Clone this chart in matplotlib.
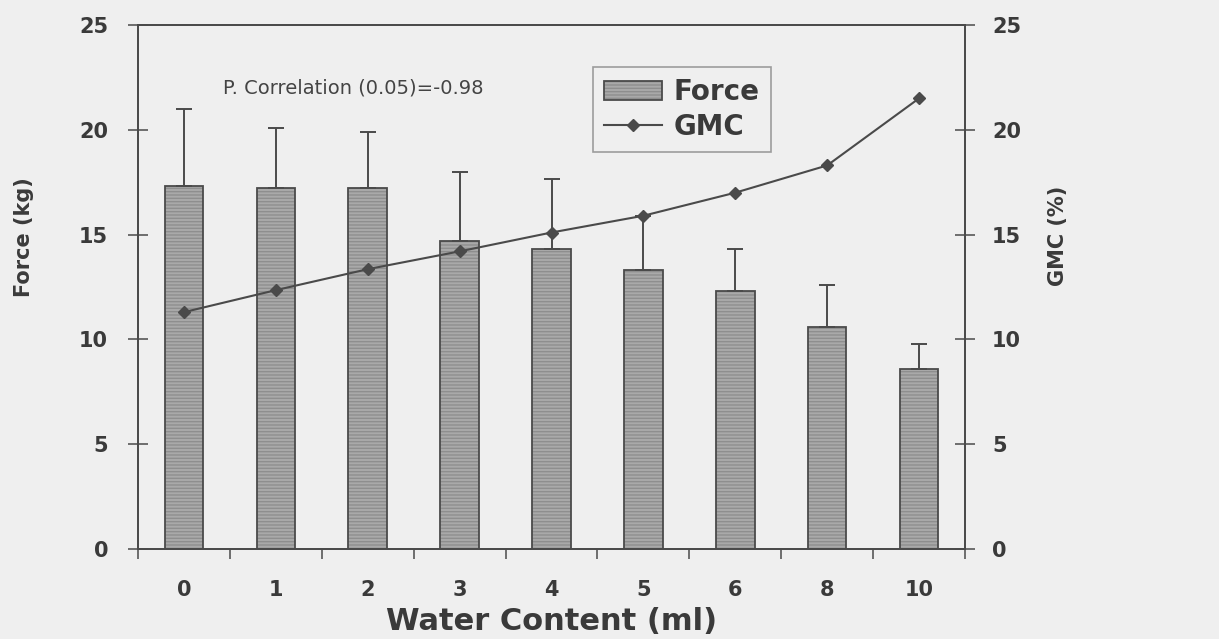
import matplotlib
matplotlib.use("Agg")
import matplotlib.pyplot as plt
from matplotlib.patches import Patch
from matplotlib.lines import Line2D
import numpy as np

# ---- data ----
categories = ["0", "1", "2", "3", "4", "5", "6", "8", "10"]
force = [17.3, 17.2, 17.2, 14.7, 14.3, 13.3, 12.3, 10.6, 8.6]
force_err = [3.7, 2.9, 2.7, 3.3, 3.35, 2.6, 2.0, 2.0, 1.2]
gmc = [11.3, 12.35, 13.35, 14.2, 15.1, 15.9, 17.0, 18.3, 21.5]
yticks = [0, 5, 10, 15, 20, 25]

BG = "#efefef"
TXT = "#3a3a3a"
AX = "#4a4a4a"
BAR = "#a9a9a9"

plt.rcParams["font.family"] = "DejaVu Sans"

fig = plt.figure(figsize=(12.19, 6.39), dpi=100, facecolor=BG)
ax = fig.add_axes([138 / 1219, 90 / 639, 827 / 1219, 524 / 639])
ax.set_facecolor(BG)
x = np.arange(len(categories))

# bars: hatched fill, then dark outline
ax.bar(x, force, width=0.42, color=BAR, hatch="-----", edgecolor="#8e8e8e",
       linewidth=0, zorder=2)
ax.bar(x, force, width=0.42, fill=False, edgecolor=AX, linewidth=1.3, zorder=3)
ax.errorbar(x, force, yerr=[np.zeros(len(force)), force_err], fmt="none",
            ecolor=AX, elinewidth=1.4, capsize=6, capthick=1.4, zorder=3)

ax.set_xlim(-0.5, len(categories) - 0.5)
ax.set_ylim(0, 25)
ax.set_yticks(yticks)
ax.set_xticks(x)
ax.set_xticklabels(categories)
ax.set_xticks(np.arange(len(categories) + 1) - 0.5, minor=True)
ax.tick_params(axis="x", which="major", length=0, pad=22, labelsize=15,
               labelcolor=TXT)
ax.tick_params(axis="x", which="minor", length=7, width=1.1, color=AX,
               direction="out")
ax.tick_params(axis="y", direction="inout", length=15, width=1.1, color=AX,
               labelsize=15, labelcolor=TXT, pad=14)
for lab in ax.get_xticklabels() + ax.get_yticklabels():
    lab.set_fontweight("bold")
for s in ax.spines.values():
    s.set_color(AX)
    s.set_linewidth(1.3)

ax2 = ax.twinx()
ax2.set_ylim(0, 25)
ax2.set_yticks(yticks)
ax2.plot(x, gmc, color=AX, linewidth=1.5, marker="D", markersize=6,
         markerfacecolor=AX, markeredgecolor=AX, zorder=4)
ax2.tick_params(axis="y", direction="inout", length=15, width=1.1, color=AX,
                labelsize=15, labelcolor=TXT, pad=12)
for lab in ax2.get_yticklabels():
    lab.set_fontweight("bold")
for s in ax2.spines.values():
    s.set_color(AX)
    s.set_linewidth(1.3)

# annotation
ax.text(0.42, 22.0, "P. Correlation (0.05)=-0.98", family="DejaVu Sans",
        fontsize=14, color="#444444", va="center", ha="left")

# legend
h_force = (Patch(facecolor=BAR, hatch="-----", edgecolor="#8e8e8e", linewidth=0),
           Patch(fill=False, edgecolor=AX, linewidth=1.3))
h_gmc = Line2D([], [], color=AX, linewidth=1.5, marker="D", markersize=6)
leg = ax2.legend([h_force, h_gmc], ["Force", "GMC"], loc="upper left",
                 bbox_to_anchor=(0.55, 0.92), frameon=True, fancybox=False,
                 prop={"family": "DejaVu Sans", "weight": "bold", "size": 20},
                 handlelength=2.1, handleheight=0.65, handletextpad=0.4,
                 borderpad=0.4, labelspacing=0.25, borderaxespad=0)
leg.get_frame().set_facecolor(BG)
leg.get_frame().set_edgecolor("#888888")
leg.get_frame().set_linewidth(1.2)
for t in leg.get_texts():
    t.set_color(TXT)

# axis labels
fig.text(24 / 1219, 1 - 237 / 639, "Force (kg)", rotation=90, ha="center",
         va="center", fontsize=15, fontweight="bold", color=TXT)
fig.text(1058 / 1219, 1 - 236 / 639, "GMC (%)", rotation=90, ha="center",
         va="center", fontsize=15, fontweight="bold", color=TXT)
fig.text(552 / 1219, 1 - 622 / 639, "Water Content (ml)", ha="center",
         va="center", fontsize=22, fontweight="bold", color=TXT)

fig.savefig("out.png", dpi=100, facecolor=BG)
